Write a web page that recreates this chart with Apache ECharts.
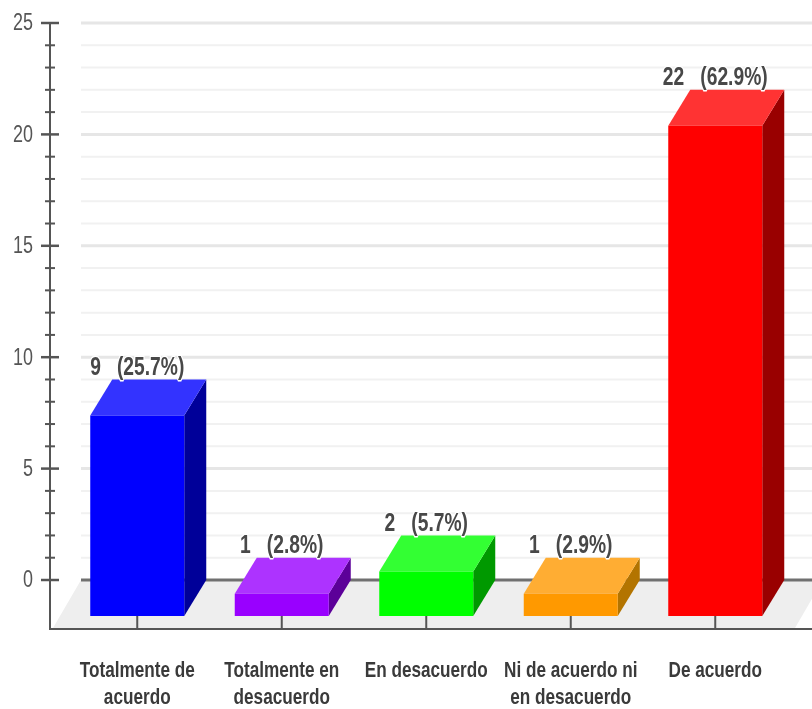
<!DOCTYPE html>
<html>
<head>
<meta charset="utf-8">
<title>Grafico</title>
<style>
  html, body { margin: 0; padding: 0; background: #fff; }
  #main { width: 812px; height: 709px; }
</style>
<script src="https://cdn.jsdelivr.net/npm/echarts@6/dist/echarts.min.js"></script>
</head>
<body>
<div id="main"></div>
<script>
var categories = [
  "Totalmente de\nacuerdo",
  "Totalmente en\ndesacuerdo",
  "En desacuerdo",
  "Ni de acuerdo ni\nen desacuerdo",
  "De acuerdo"
];
var counts = [9, 1, 2, 1, 22];
var percents = ["25.7", "2.8", "5.7", "2.9", "62.9"];
var yTicks = [0, 1, 2, 3, 4, 5, 6, 7, 8, 9, 10, 11, 12, 13, 14, 15, 16, 17, 18, 19, 20, 21, 22, 23, 24, 25];

var frontColors = ["#0000ff", "#9900ff", "#00ff00", "#ff9900", "#ff0000"];
var topColors = ["#3333ff", "#ad33ff", "#33ff33", "#ffad33", "#ff3333"];
var sideColors = ["#000099", "#5c0099", "#009900", "#b37400", "#990000"];

var fontName = '"Liberation Sans", Arial, sans-serif';
var axisColor = "#555";
// perspective offset of the bars
var depthX = 22;
var depthY = 36;
var halfBar = 47;
// the original text is condensed, no narrow font here so it gets squeezed
var squeeze = 0.78;

function line(x1, y1, x2, y2, color, width) {
  return {
    type: "line",
    shape: { x1: x1, y1: y1, x2: x2, y2: y2 },
    style: { stroke: color, lineWidth: width }
  };
}

// floor below the zero line + the parts of the axes outside of the grid
function renderFloor(params, api) {
  var y0 = api.coord([0, 0])[1];
  return {
    type: "group",
    children: [
      {
        type: "polygon",
        shape: { points: [[81, y0], [823, y0], [795, y0 + 48], [53, y0 + 48]] },
        style: { fill: "#eeeeee" }
      },
      line(50, y0 - 1, 50, y0 + 50, axisColor, 2),
      line(50, y0 + 49, 812, y0 + 49, axisColor, 2)
    ]
  };
}

// back wall lines, crossing ticks and labels of the y axis
function renderWall(params, api) {
  var v = api.value(0);
  var y = api.coord([0, v])[1];
  var major = v % 5 === 0;
  var color = major ? "#e6e6e6" : "#f1f1f1";
  if (v === 0) color = "#707070";
  var tick = major ? 9 : 5;
  var children = [
    line(81, y, 812, y, color, major ? 3 : 2),
    line(50 - tick, y, 50 + tick, y, axisColor, major ? 2.5 : 2)
  ];
  if (major) {
    children.push({
      type: "text",
      x: 33,
      y: y + 1,
      scaleX: squeeze,
      style: {
        text: String(v),
        font: "23px " + fontName,
        fill: "#555",
        align: "right",
        verticalAlign: "middle"
      }
    });
  }
  return { type: "group", children: children };
}

function renderBar(params, api) {
  var i = api.value(0);
  var p = api.coord([i, api.value(1)]);
  var y0 = api.coord([i, 0])[1];
  var x = p[0];
  var left = x - halfBar;
  var right = x + halfBar;
  var bottom = y0 + depthY;
  var top = p[1] + depthY;
  return {
    type: "group",
    children: [
      line(x, bottom, x, y0 + 49, axisColor, 2),
      {
        type: "polygon",
        shape: { points: [[right, bottom], [right + depthX, y0], [right + depthX, p[1]], [right, top]] },
        style: { fill: sideColors[i] }
      },
      {
        type: "polygon",
        shape: { points: [[left, top], [right, top], [right + depthX, p[1]], [left + depthX, p[1]]] },
        style: { fill: topColors[i] }
      },
      {
        type: "rect",
        shape: { x: left, y: top, width: right - left, height: bottom - top },
        style: { fill: frontColors[i] }
      },
      {
        type: "text",
        x: x,
        y: p[1] - 12,
        scaleX: 0.74,
        style: {
          text: counts[i] + "   (" + percents[i] + "%)",
          font: "bold 26px " + fontName,
          fill: "#484848",
          stroke: "#fff",
          lineWidth: 3,
          align: "center",
          verticalAlign: "middle"
        }
      },
      {
        type: "text",
        x: x,
        y: y0 + 77,
        scaleX: squeeze,
        style: {
          text: categories[i],
          font: "bold 22px " + fontName,
          lineHeight: 27,
          fill: "#3a3a3a",
          align: "center",
          verticalAlign: "top"
        }
      }
    ]
  };
}

var myChart = echarts.init(document.getElementById("main"));
myChart.setOption({
  animation: false,
  backgroundColor: "#fff",
  grid: { left: 65, right: 24.5, top: 23, bottom: 129 },
  xAxis: {
    type: "category",
    data: categories,
    position: "bottom",
    offset: 49,
    axisLine: { show: false },
    axisTick: {
      show: true,
      alignWithLabel: true,
      length: 14,
      lineStyle: { color: axisColor, width: 2 }
    },
    axisLabel: { show: false }
  },
  yAxis: {
    type: "value",
    min: 0,
    max: 25,
    interval: 5,
    offset: 15,
    axisLine: { show: true, lineStyle: { color: axisColor, width: 2 } },
    axisTick: { show: false },
    splitLine: { show: false },
    axisLabel: { show: false }
  },
  series: [
    {
      name: "piso",
      type: "custom",
      renderItem: renderFloor,
      data: [[0]],
      encode: { x: 0 },
      silent: true,
      z: 1
    },
    {
      name: "pared",
      type: "custom",
      renderItem: renderWall,
      data: yTicks.map(function (v) { return [v]; }),
      encode: { y: 0 },
      silent: true,
      z: 2
    },
    {
      name: "Respuestas",
      type: "custom",
      renderItem: renderBar,
      data: counts.map(function (v, i) { return [i, v]; }),
      encode: { x: 0, y: 1 },
      silent: true,
      z: 3
    }
  ]
});
</script>
</body>
</html>
